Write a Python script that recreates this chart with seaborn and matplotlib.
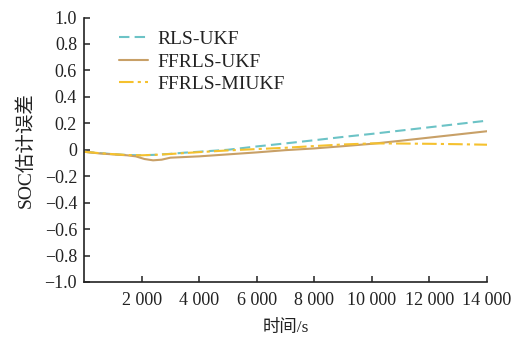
import numpy as np
import pandas as pd
import matplotlib
matplotlib.use("Agg")
import matplotlib.pyplot as plt
import seaborn as sns
from matplotlib.ticker import FixedLocator, FuncFormatter

sns.set_theme(style="white")
plt.rcParams['font.family'] = ['Liberation Serif', 'Noto Sans CJK SC', 'DejaVu Sans']
plt.rcParams['axes.unicode_minus'] = True

# data
x_rls = [0, 500, 1000, 1500, 2000, 2500, 3000, 3500, 4000, 5000, 6000, 7000, 8000, 9000, 10000, 11000, 12000, 13000, 14000]
y_rls = [-0.015, -0.025, -0.033, -0.04, -0.042, -0.038, -0.031, -0.022, -0.015, 0.0, 0.025, 0.048, 0.072, 0.097, 0.12, 0.145, 0.17, 0.195, 0.22]

x_ff = [0, 500, 1000, 1500, 1800, 2100, 2400, 2700, 3000, 3500, 4000, 5000, 6000, 7000, 8000, 9000, 10000, 11000, 12000, 13000, 14000]
y_ff = [-0.015, -0.027, -0.035, -0.042, -0.05, -0.07, -0.08, -0.075, -0.06, -0.055, -0.05, -0.035, -0.02, -0.003, 0.01, 0.027, 0.045, 0.068, 0.092, 0.116, 0.14]

x_mi = [0, 500, 1000, 1500, 2000, 2500, 3000, 4000, 5000, 6000, 7000, 8000, 9000, 10000, 11000, 12000, 13000, 14000]
y_mi = [-0.015, -0.025, -0.033, -0.04, -0.042, -0.038, -0.032, -0.018, -0.005, 0.005, 0.015, 0.028, 0.04, 0.048, 0.047, 0.045, 0.042, 0.038]

labels = ["RLS-UKF", "FFRLS-UKF", "FFRLS-MIUKF"]
xticks = [2000, 4000, 6000, 8000, 10000, 12000, 14000]
yticks = [-1.0, -0.8, -0.6, -0.4, -0.2, 0, 0.2, 0.4, 0.6, 0.8, 1.0]

fig = plt.figure(figsize=(5.26, 3.4), dpi=100)
L, R, B, T = 84 / 526, 487 / 526, 1 - 282 / 340, 1 - 17.5 / 340
ax = fig.add_axes([L, B, R - L, T - B])

sns.lineplot(x=x_rls, y=y_rls, ax=ax, color="#6cc3c6", lw=1.5, label=labels[0],
             linestyle=(0, (5, 2.5)))
sns.lineplot(x=x_ff, y=y_ff, ax=ax, color="#c8a067", lw=1.5, label=labels[1])
sns.lineplot(x=x_mi, y=y_mi, ax=ax, color="#f5c12e", lw=1.5, label=labels[2],
             linestyle=(0, (7, 2, 1.5, 2)))

ax.set_xlim(0, 14000)
ax.set_ylim(-1.0, 1.0)
ax.xaxis.set_major_locator(FixedLocator(xticks))
ax.yaxis.set_major_locator(FixedLocator(yticks))

def xfmt(v, pos):
    return f"{int(round(v)):,}".replace(",", " ")

def yfmt(v, pos):
    if abs(v) < 1e-9:
        return "0"
    return f"{v:.1f}".replace("-", "\u2212")

ax.xaxis.set_major_formatter(FuncFormatter(xfmt))
ax.yaxis.set_major_formatter(FuncFormatter(yfmt))

for s in ["top", "right"]:
    ax.spines[s].set_visible(False)
for s in ["left", "bottom"]:
    ax.spines[s].set_color("#222222")
    ax.spines[s].set_linewidth(1.2)

ax.tick_params(axis="both", direction="in", length=4, width=1.1, colors="#222222",
               labelsize=13, left=True, bottom=True)
ax.tick_params(axis="y", pad=5)
ax.tick_params(axis="x", pad=7)

ax.set_xlabel("时间/s", fontsize=12.5, color="#222222", labelpad=8)
ax.set_ylabel("SOC估计误差", fontsize=14, color="#222222", labelpad=7)

leg = ax.legend(loc="upper left", frameon=False, fontsize=14, handlelength=1.5,
                bbox_to_anchor=((119 - 84) / 403, 0.951), borderpad=0, borderaxespad=0,
                labelspacing=0.25, handletextpad=0.5)
for t in leg.get_texts():
    t.set_color("#222222")

fig.savefig("out.png", dpi=100, facecolor="white")
